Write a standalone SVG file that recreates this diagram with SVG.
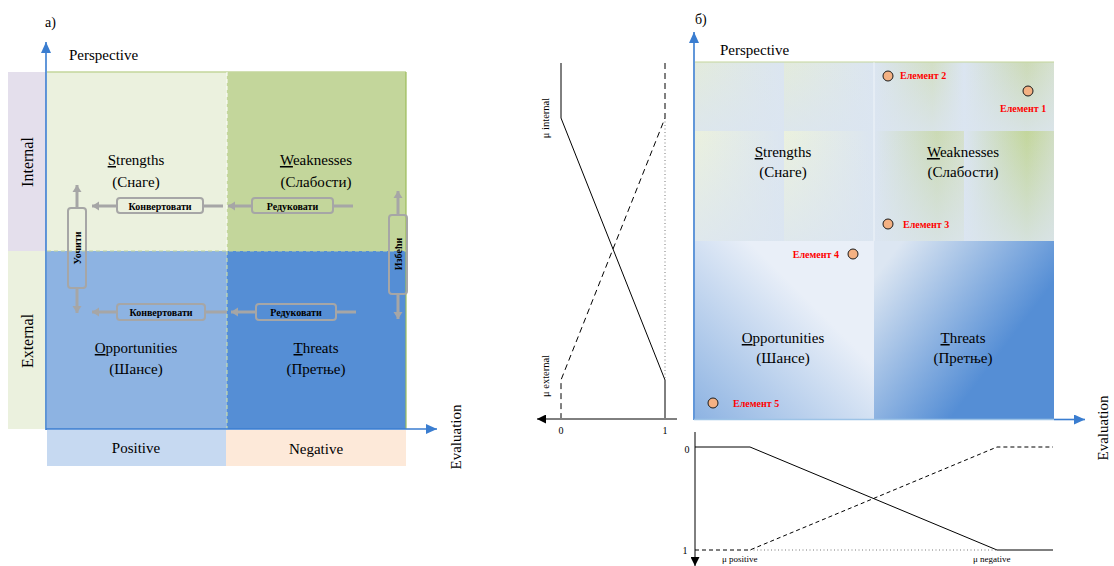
<svg xmlns="http://www.w3.org/2000/svg" width="1114" height="566" viewBox="0 0 1114 566">
<style>
text{font-family:"Liberation Serif","Times New Roman",serif;fill:#000}
.lbl{font-size:15px;text-anchor:middle}
.axl{font-size:15px}
.side{font-size:16px;text-anchor:middle}
.act{font-size:10px;font-weight:bold;text-anchor:middle}
.el{font-size:10px;font-weight:bold;fill:#ff0000}
.sm{font-size:10.5px}
.num{font-size:10px;text-anchor:middle}
.gr{stroke:#a6a6a6;stroke-width:3;fill:none}
.box{stroke:#a6a6a6;stroke-width:2}
.ax{stroke:#3a7dd0;stroke-width:1.6;fill:none}
.pt{fill:#f4b183;stroke:#1a1a1a;stroke-width:1}
.k{stroke:#000;stroke-width:1;fill:none}
.kd{stroke:#000;stroke-width:1;fill:none;stroke-dasharray:6 4}
.kdb{stroke:#000;stroke-width:1;fill:none;stroke-dasharray:4 3}
.dot{stroke:#555;stroke-width:0.8;fill:none;stroke-dasharray:1 2.5}
.cell{stroke:none}
</style>
<defs>
<marker id="mBlue" markerUnits="userSpaceOnUse" markerWidth="12" markerHeight="10" refX="11" refY="5" orient="auto">
<path d="M0,0 L11,5 L0,10 z" fill="#3a7dd0"/>
</marker>
<marker id="mGray" markerUnits="userSpaceOnUse" markerWidth="8" markerHeight="10" refX="7" refY="5" orient="auto">
<path d="M0,0.5 L7,5 L0,9.5 z" fill="#a6a6a6"/>
</marker>
<marker id="mBlack" markerUnits="userSpaceOnUse" markerWidth="10" markerHeight="9" refX="9" refY="4.5" orient="auto">
<path d="M0,0 L9,4.5 L0,9 z" fill="#000"/>
</marker>
<!-- top half cell shading of panel б -->
<linearGradient id="gLeftGreen" x1="0" y1="0" x2="1" y2="0">
<stop offset="0" stop-color="#ebf1de"/><stop offset="1" stop-color="#dbe5f1"/>
</linearGradient>
<linearGradient id="gLeftGreenSoft" x1="0" y1="0" x2="1" y2="0">
<stop offset="0" stop-color="#e3ebdc"/><stop offset="1" stop-color="#dbe5f1"/>
</linearGradient>
<linearGradient id="gMidGreen" x1="0" y1="0" x2="1" y2="0">
<stop offset="0" stop-color="#dbe5f1"/><stop offset="0.7" stop-color="#cbdab4"/><stop offset="1" stop-color="#d5e0cc"/>
</linearGradient>
<linearGradient id="gMidGreenSoft" x1="0" y1="0" x2="1" y2="0">
<stop offset="0" stop-color="#dbe5f1"/><stop offset="0.65" stop-color="#d3dfc6"/><stop offset="1" stop-color="#dbe5f1"/>
</linearGradient>
<linearGradient id="gRightGreen" x1="0" y1="0" x2="1" y2="0">
<stop offset="0" stop-color="#dbe5f1"/><stop offset="0.7" stop-color="#c3d69b"/><stop offset="1" stop-color="#d0ddc2"/>
</linearGradient>
<linearGradient id="gRightGreenSoft" x1="0" y1="0" x2="1" y2="0">
<stop offset="0" stop-color="#dbe5f1"/><stop offset="0.7" stop-color="#ccdab6"/><stop offset="1" stop-color="#d6e1d0"/>
</linearGradient>
<linearGradient id="gFade" x1="0" y1="0" x2="0" y2="1">
<stop offset="0" stop-color="#dbe5f1" stop-opacity="0"/><stop offset="1" stop-color="#dbe5f1" stop-opacity="0.75"/>
</linearGradient>
<linearGradient id="gOpp" x1="0" y1="1" x2="0.65" y2="0.35">
<stop offset="0" stop-color="#8db3e2"/><stop offset="1" stop-color="#e9eff8"/>
</linearGradient>
<linearGradient id="gThr" x1="0" y1="0" x2="1" y2="0.75">
<stop offset="0.1" stop-color="#dce6f2"/><stop offset="0.75" stop-color="#558ed5"/>
</linearGradient>
</defs>

<!-- ===== Panel а ===== -->
<g id="panel-a">
<text x="45" y="27" style="font-size:14px">а)</text>
<text class="axl" x="69" y="60">Perspective</text>

<g id="side-internal">
<rect x="8" y="72" width="38" height="179" fill="#e4dfec"/>
<text class="side" transform="translate(33,162) rotate(-90)">Internal</text>
</g>
<g id="side-external">
<rect x="8" y="251" width="38" height="178" fill="#ebf1de"/>
<text class="side" transform="translate(33,341) rotate(-90)">External</text>
</g>

<g id="q-strengths">
<rect x="47" y="72" width="180" height="179" fill="#ebf1de"/>
<text class="lbl" x="136" y="165"><tspan text-decoration="underline">S</tspan>trengths</text>
<text class="lbl" x="136" y="187">(Снаге)</text>
</g>
<g id="q-weaknesses">
<rect x="227" y="72" width="179" height="179" fill="#c3d69b"/>
<text class="lbl" x="316" y="165"><tspan text-decoration="underline">W</tspan>eaknesses</text>
<text class="lbl" x="316" y="187">(Слабости)</text>
</g>
<g id="q-opportunities">
<rect x="47" y="251" width="180" height="178" fill="#8db3e2"/>
<text class="lbl" x="136" y="353"><tspan text-decoration="underline">O</tspan>pportunities</text>
<text class="lbl" x="136" y="374">(Шансе)</text>
</g>
<g id="q-threats">
<rect x="227" y="251" width="179" height="178" fill="#558ed5"/>
<text class="lbl" x="316" y="353"><tspan text-decoration="underline">T</tspan>hreats</text>
<text class="lbl" x="316" y="374">(Претње)</text>
</g>

<!-- grid borders and dividers -->
<line x1="47" y1="72" x2="406" y2="72" stroke="#c3d69b" stroke-width="1.5"/>
<line x1="406" y1="72" x2="406" y2="429" stroke="#9bbb59" stroke-width="1.2"/>
<line x1="227" y1="72" x2="227" y2="251" stroke="#ffffff" stroke-width="1" stroke-dasharray="4 3"/>
<line x1="227" y1="251" x2="227" y2="429" stroke="#d7e4a0" stroke-width="1" stroke-dasharray="4 3"/>
<line x1="47" y1="251" x2="406" y2="251" stroke="#c3d69b" stroke-width="1.2" stroke-dasharray="4 3"/>

<g id="eval-positive">
<rect x="47" y="430" width="179" height="36" fill="#c6d9f1"/>
<text class="lbl" x="136" y="453">Positive</text>
</g>
<g id="eval-negative">
<rect x="226" y="430" width="180" height="36" fill="#fde9d9"/>
<text class="lbl" x="316" y="454">Negative</text>
</g>

<text class="axl" transform="translate(461,437) rotate(-90)" text-anchor="middle">Evaluation</text>
</g>

<!-- strategy actions of panel а -->
<g id="act-convert-top">
<line class="gr" x1="223" y1="206" x2="92" y2="206" marker-end="url(#mGray)"/>
<rect class="box" x="117" y="198" width="86" height="15" rx="3" fill="#ebf1de"/>
<text class="act" x="160" y="209.5">Конвертовати</text>
</g>
<g id="act-reduce-top">
<line class="gr" x1="353" y1="206" x2="228" y2="206" marker-end="url(#mGray)"/>
<rect class="box" x="252" y="198" width="81" height="15" rx="3" fill="#c3d69b"/>
<text class="act" x="292.5" y="209.5">Редуковати</text>
</g>
<g id="act-convert-bottom">
<line class="gr" x1="227" y1="312" x2="92" y2="312" marker-end="url(#mGray)"/>
<rect class="box" x="117" y="304" width="88" height="16" rx="3" fill="#8db3e2"/>
<text class="act" x="161" y="315.5">Конвертовати</text>
</g>
<g id="act-reduce-bottom">
<line class="gr" x1="356" y1="312" x2="231" y2="312" marker-end="url(#mGray)"/>
<rect class="box" x="256" y="304" width="80" height="16" rx="3" fill="#558ed5"/>
<text class="act" x="296" y="315.5">Редуковати</text>
</g>
<g id="act-notice">
<line class="gr" x1="77" y1="208" x2="77" y2="185" marker-end="url(#mGray)"/>
<line class="gr" x1="77" y1="288" x2="77" y2="313" marker-end="url(#mGray)"/>
<rect class="box" x="68" y="208" width="18" height="80" rx="3" fill="none"/>
<text class="act" transform="translate(77,248) rotate(-90)" y="3.5">Уочити</text>
</g>
<g id="act-avoid">
<line class="gr" x1="398" y1="215" x2="398" y2="191" marker-end="url(#mGray)"/>
<line class="gr" x1="398" y1="294" x2="398" y2="319" marker-end="url(#mGray)"/>
<rect class="box" x="389" y="215" width="18" height="79" rx="3" fill="none"/>
<text class="act" transform="translate(398,254) rotate(-90)" y="3.5">Избећи</text>
</g>

<!-- axes of panel а -->
<g id="axes-a">
<line class="ax" x1="46" y1="430" x2="46" y2="42" marker-end="url(#mBlue)"/>
<line class="ax" x1="46" y1="429" x2="437" y2="429" marker-end="url(#mBlue)"/>
</g>

<!-- ===== Perspective membership functions ===== -->
<g id="mu-perspective">
<polyline class="k" points="561,63 561,118 665,380 665,418"/>
<polyline class="kd" points="665,63 665,118 561,380 561,418"/>
<line class="dot" x1="665" y1="118" x2="665" y2="380"/>
<line class="k" x1="677" y1="419" x2="537" y2="419" marker-end="url(#mBlack)"/>
<text class="num" x="561" y="434">0</text>
<text class="num" x="665" y="434">1</text>
<text class="sm" transform="translate(549,118) rotate(-90)" text-anchor="middle">μ internal</text>
<text class="sm" transform="translate(549,376) rotate(-90)" text-anchor="middle">μ external</text>
</g>

<!-- ===== Panel б ===== -->
<g id="panel-b">
<text x="695" y="24" style="font-size:14px">б)</text>
<text class="axl" x="720" y="55">Perspective</text>

<g id="zone-internal">
<rect class="cell" x="695" y="62" width="89" height="69" fill="url(#gLeftGreenSoft)"/>
<rect class="cell" x="784" y="62" width="90" height="69" fill="url(#gLeftGreenSoft)"/>
<rect class="cell" x="874" y="62" width="90" height="69" fill="url(#gMidGreenSoft)"/>
<rect class="cell" x="964" y="62" width="90" height="69" fill="url(#gRightGreenSoft)"/>
<rect class="cell" x="695" y="131" width="89" height="110" fill="url(#gLeftGreen)"/>
<rect class="cell" x="784" y="131" width="90" height="110" fill="url(#gLeftGreen)"/>
<rect class="cell" x="874" y="131" width="90" height="110" fill="url(#gMidGreen)"/>
<rect class="cell" x="964" y="131" width="90" height="110" fill="url(#gRightGreen)"/>
<rect class="cell" x="695" y="62" width="359" height="69" fill="url(#gFade)"/>
<rect class="cell" x="695" y="131" width="359" height="110" fill="url(#gFade)"/>
<line x1="695" y1="62" x2="1054" y2="62" stroke="#c3d69b" stroke-width="1.2"/>
<line x1="874" y1="62" x2="874" y2="241" stroke="#ffffff" stroke-opacity="0.6" stroke-width="1"/>
</g>

<g id="q-strengths-b">
<text class="lbl" x="783" y="157"><tspan text-decoration="underline">S</tspan>trengths</text>
<text class="lbl" x="783" y="177">(Снаге)</text>
</g>
<g id="q-weaknesses-b">
<text class="lbl" x="963" y="157"><tspan text-decoration="underline">W</tspan>eaknesses</text>
<text class="lbl" x="963" y="177">(Слабости)</text>
</g>
<g id="q-opportunities-b">
<rect class="cell" x="695" y="241" width="179" height="178" fill="url(#gOpp)"/>
<text class="lbl" x="783" y="343"><tspan text-decoration="underline">O</tspan>pportunities</text>
<text class="lbl" x="783" y="363">(Шансе)</text>
</g>
<g id="q-threats-b">
<rect class="cell" x="874" y="241" width="180" height="178" fill="url(#gThr)"/>
<text class="lbl" x="963" y="343"><tspan text-decoration="underline">T</tspan>hreats</text>
<text class="lbl" x="963" y="363">(Претње)</text>
</g>

<g id="element-1">
<circle class="pt" cx="1028" cy="91" r="5"/>
<text class="el" x="1000" y="112">Елемент 1</text>
</g>
<g id="element-2">
<circle class="pt" cx="888" cy="76" r="5"/>
<text class="el" x="900" y="79">Елемент 2</text>
</g>
<g id="element-3">
<circle class="pt" cx="888" cy="224" r="5"/>
<text class="el" x="903" y="228">Елемент 3</text>
</g>
<g id="element-4">
<circle class="pt" cx="853" cy="254" r="5"/>
<text class="el" x="839" y="258" text-anchor="end">Елемент 4</text>
</g>
<g id="element-5">
<circle class="pt" cx="713" cy="403" r="5"/>
<text class="el" x="733" y="407">Елемент 5</text>
</g>

<g id="axes-b">
<line class="ax" x1="694" y1="420" x2="694" y2="32" marker-end="url(#mBlue)"/>
<line x1="694" y1="419.5" x2="1054" y2="419.5" stroke="#9dc3e6" stroke-width="1.6"/>
<line class="ax" x1="1054" y1="419.5" x2="1085" y2="419.5" stroke="#2e75b6" marker-end="url(#mBlue)"/>
</g>
<text class="axl" transform="translate(1108,428) rotate(-90)" text-anchor="middle">Evaluation</text>
</g>

<!-- ===== Evaluation membership functions ===== -->
<g id="mu-evaluation">
<line class="k" x1="695" y1="432" x2="695" y2="566" marker-end="url(#mBlack)"/>
<polyline class="k" points="695,447 750,447 997,550 1053,550"/>
<polyline class="kdb" points="695,550 750,550 997,447 1053,447"/>
<line class="dot" x1="750" y1="550" x2="997" y2="550"/>
<text class="num" x="687" y="453">0</text>
<text class="num" x="685" y="554">1</text>
<text class="sm" x="722" y="562" style="font-size:9px">μ positive</text>
<text class="sm" x="973" y="562" style="font-size:9px">μ negative</text>
</g>
</svg>
